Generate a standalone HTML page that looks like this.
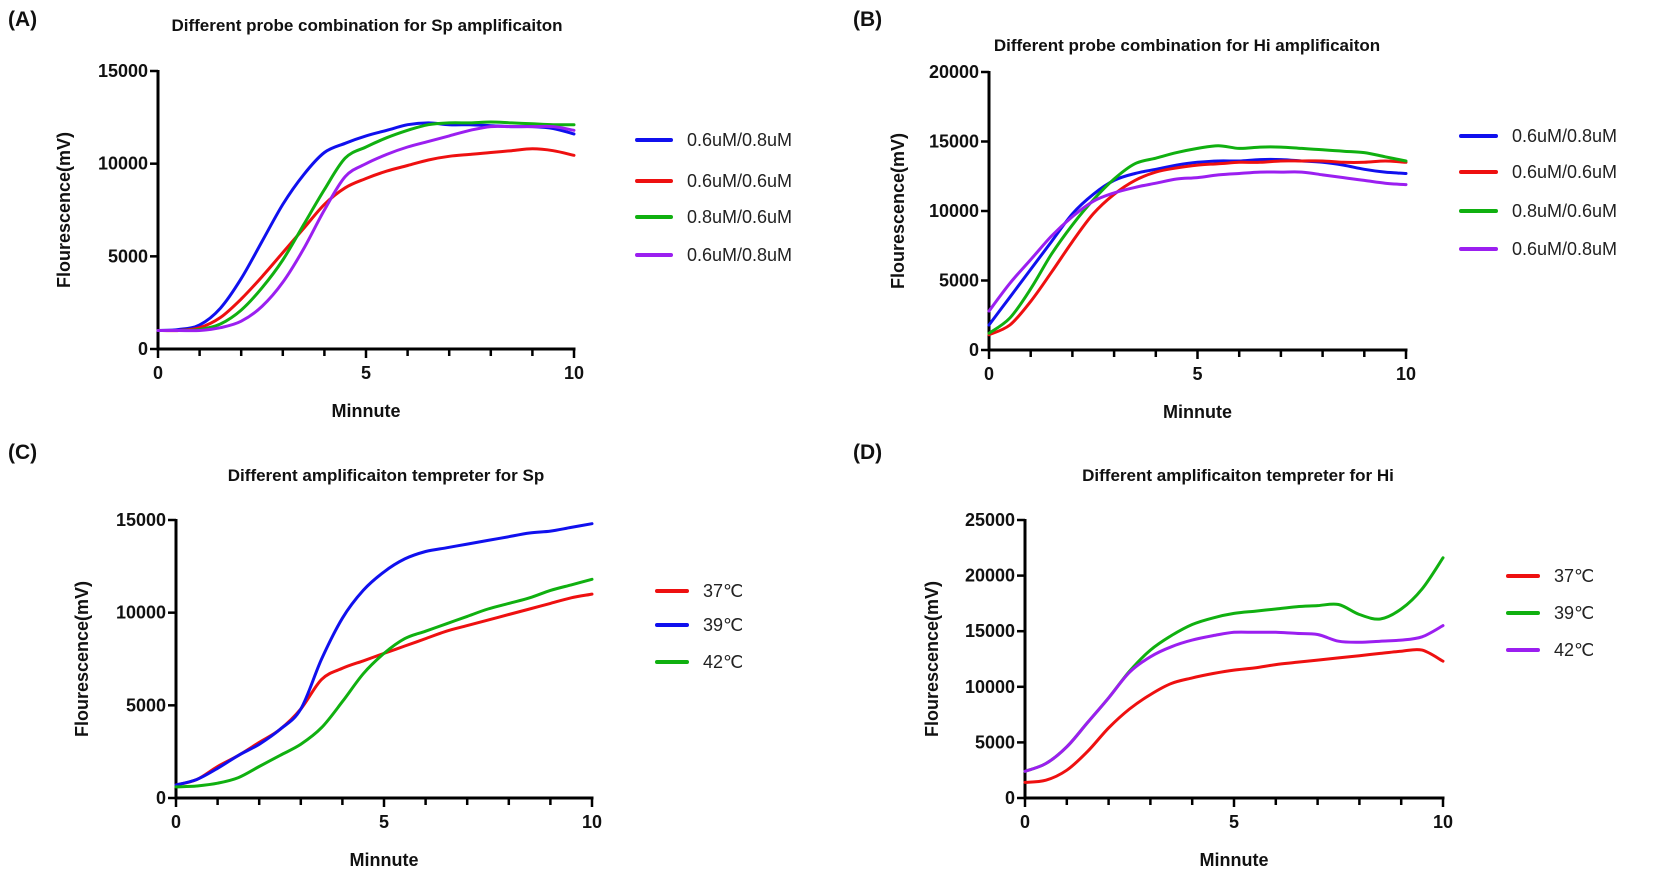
<!DOCTYPE html>
<html><head><meta charset="utf-8"><style>
html,body{margin:0;padding:0;background:#fff}
svg{display:block;font-family:"Liberation Sans",sans-serif}
</style></head><body>
<svg id="fig" width="1654" height="875" viewBox="0 0 1654 875"></svg>
<script>
const xTicks=[0,5,10];
const seriesNamesAB=["0.6uM/0.8uM"," 0.6uM/0.6uM","0.8uM/0.6uM","0.6uM/0.8uM"];
const seriesNamesCD=["37℃","39℃","42℃"];
const aBlue=[1000,1050,1300,2200,3800,5800,7800,9400,10600,11100,11500,11800,12100,12200,12100,12100,12050,12000,12000,11900,11600];
const aRed=[1000,1000,1150,1700,2700,3900,5200,6500,7800,8700,9200,9600,9900,10200,10400,10500,10600,10700,10800,10700,10450];
const aGreen=[1000,1000,1050,1350,2100,3300,4800,6700,8600,10300,10900,11400,11800,12100,12200,12200,12250,12200,12150,12100,12100];
const aPurple=[1000,1000,1000,1150,1500,2300,3600,5400,7500,9300,10000,10500,10900,11200,11500,11800,12000,12000,12000,12000,11800];
const bBlue=[1800,3800,5800,7800,9800,11200,12200,12700,13000,13300,13500,13600,13600,13700,13700,13600,13500,13300,13000,12800,12700];
const bRed=[1100,1800,3500,5600,7800,9800,11200,12200,12800,13100,13300,13400,13500,13500,13600,13600,13600,13500,13500,13600,13500];
const bGreen=[1200,2300,4400,6900,9000,10800,12300,13400,13800,14200,14500,14700,14500,14600,14600,14500,14400,14300,14200,13900,13600];
const bPurple=[2800,4800,6500,8200,9600,10700,11300,11700,12000,12300,12400,12600,12700,12800,12800,12800,12600,12400,12200,12000,11900];
const cRed=[700,1000,1700,2300,3000,3700,4800,6400,7000,7400,7800,8200,8600,9000,9300,9600,9900,10200,10500,10800,11000];
const cBlue=[700,1000,1600,2300,2900,3700,4800,7500,9700,11200,12200,12900,13300,13500,13700,13900,14100,14300,14400,14600,14800];
const cGreen=[600,650,800,1100,1700,2300,2900,3800,5200,6700,7800,8600,9000,9400,9800,10200,10500,10800,11200,11500,11800];
const dRed=[1400,1600,2500,4200,6300,8000,9300,10300,10800,11200,11500,11700,12000,12200,12400,12600,12800,13000,13200,13300,12300];
const dGreen=[2400,3100,4600,6800,9000,11400,13300,14600,15600,16200,16600,16800,17000,17200,17300,17400,16500,16100,17000,18800,21600];
const dPurple=[2400,3100,4600,6800,9000,11300,12700,13600,14200,14600,14900,14900,14900,14800,14700,14100,14000,14100,14200,14500,15500];
const yTicksA=[0,5000,10000,15000];
const yTicksB=[0,5000,10000,15000,20000];
const yTicksD=[0,5000,10000,15000,20000,25000];

const NS="http://www.w3.org/2000/svg";
const svg=document.getElementById('fig');
function el(tag,attrs,parent,text){const e=document.createElementNS(NS,tag);for(const k in attrs)e.setAttribute(k,attrs[k]);if(text!==undefined)e.textContent=text;(parent||svg).appendChild(e);return e;}
function smoothPath(pts){
  let d='M'+pts[0][0].toFixed(1)+','+pts[0][1].toFixed(1);
  for(let i=0;i<pts.length-1;i++){
    const p0=pts[Math.max(0,i-1)],p1=pts[i],p2=pts[i+1],p3=pts[Math.min(pts.length-1,i+2)];
    const c1x=p1[0]+(p2[0]-p0[0])/6,c1y=p1[1]+(p2[1]-p0[1])/6;
    const c2x=p2[0]-(p3[0]-p1[0])/6,c2y=p2[1]-(p3[1]-p1[1])/6;
    d+=` C${c1x.toFixed(1)},${c1y.toFixed(1)} ${c2x.toFixed(1)},${c2y.toFixed(1)} ${p2[0].toFixed(1)},${p2[1].toFixed(1)}`;
  }
  return d;
}

function panel(p){
  const g=el('g',{});
  
  
  const sx=v=>p.x0+(p.x1-p.x0)*v/10;
  const sy=v=>p.y0-(p.y0-p.yTop)*v/p.yMax;
  let t=el('text',{x:p.lx,y:p.ly,'font-size':21,'font-weight':'bold',fill:'#111'},g,'('+p.id.toUpperCase()+')');
  
  
  t=el('text',{x:p.tx,y:p.ty,'font-size':17,'font-weight':'bold','text-anchor':'middle',fill:'#111'},g,p.title);
  
  
  let a=el('line',{x1:p.x0,y1:p.y0,x2:p.x1+1.5,y2:p.y0,stroke:'#000','stroke-width':3},g);
  
  
  a=el('line',{x1:p.x0,y1:p.y0+1.5,x2:p.x0,y2:p.yTop-1,stroke:'#000','stroke-width':3},g);
  
  
  for(let i=0;i<=10;i++){
    const tk=el('line',{x1:sx(i),y1:p.y0,x2:sx(i),y2:p.y0+(i%5===0?9:7),stroke:'#000','stroke-width':2.5},g);
    
    
  }
  xTicks.forEach(v=>{
    const l=el('text',{x:sx(v),y:p.y0+30,'font-size':18,'font-weight':'bold','text-anchor':'middle',fill:'#111'},g,String(v));
    
    
  });
  p.yTicks.forEach(v=>{
    const tk=el('line',{x1:p.x0-8,y1:sy(v),x2:p.x0,y2:sy(v),stroke:'#000','stroke-width':2.5},g);
    
    
    const l=el('text',{x:p.x0-10,y:sy(v)+6,'font-size':18,'font-weight':'bold','text-anchor':'end',fill:'#111'},g,String(v));
    
    
  });
  t=el('text',{x:(p.x0+p.x1)/2,y:p.y0+68,'font-size':18,'font-weight':'bold','text-anchor':'middle',fill:'#111'},g,'Minnute');
  
  
  const cy=(p.y0+p.yTop)/2;
  t=el('text',{x:p.yx,y:cy,'font-size':18,'font-weight':'bold','text-anchor':'middle',fill:'#111',transform:`rotate(-90 ${p.yx} ${cy})`},g,'Flourescence(mV)');
  
  
  p.series.forEach((s,si)=>{
    const pts=s.data.map((v,i)=>[sx(i*0.5),sy(v)]);
    const pl=el('path',{d:smoothPath(pts),fill:'none',stroke:s.color,'stroke-width':3,'stroke-linejoin':'round','stroke-linecap':'round'},g);
    
    
    const ly=p.legY[si];
    const lg=el('g',{},g);
    
    
    el('line',{x1:p.legX,y1:ly,x2:p.legX+p.legW,y2:ly,stroke:s.color,'stroke-width':4,'stroke-linecap':'round'},lg);
    el('text',{x:p.legX+p.legW+16,y:ly+6,'font-size':18,fill:'#222','xml:space':'preserve'},lg,s.name);
  });
}
panel({id:'a',x0:158,x1:574,y0:349,yTop:71,yMax:15000,yTicks:yTicksA,lx:8,ly:26,tx:367,ty:31,yx:70,
  title:'Different probe combination for Sp amplificaiton',legX:637,legW:34,legY:[140,181,217,255],
  series:[{key:'blue',color:'#1010ee',data:aBlue,name:seriesNamesAB[0]},{key:'red',color:'#ee1010',data:aRed,name:seriesNamesAB[1]},{key:'green',color:'#10b010',data:aGreen,name:seriesNamesAB[2]},{key:'purple',color:'#9b1ff0',data:aPurple,name:seriesNamesAB[3]}]});
panel({id:'b',x0:989,x1:1406,y0:350,yTop:72,yMax:20000,yTicks:yTicksB,lx:853,ly:26,tx:1187,ty:51,yx:904,
  title:'Different probe combination for Hi amplificaiton',legX:1461,legW:35,legY:[136,172,211,249],
  series:[{key:'blue',color:'#1010ee',data:bBlue,name:seriesNamesAB[0]},{key:'red',color:'#ee1010',data:bRed,name:seriesNamesAB[1]},{key:'green',color:'#10b010',data:bGreen,name:seriesNamesAB[2]},{key:'purple',color:'#9b1ff0',data:bPurple,name:seriesNamesAB[3]}]});
panel({id:'c',x0:176,x1:592,y0:798,yTop:520,yMax:15000,yTicks:yTicksA,lx:8,ly:459,tx:386,ty:481,yx:88,
  title:'Different  amplificaiton tempreter for Sp',legX:657,legW:30,legY:[591,625,662],
  series:[{key:'red',color:'#ee1010',data:cRed,name:seriesNamesCD[0]},{key:'blue',color:'#1010ee',data:cBlue,name:seriesNamesCD[1]},{key:'green',color:'#10b010',data:cGreen,name:seriesNamesCD[2]}]});
panel({id:'d',x0:1025,x1:1443,y0:798,yTop:520,yMax:25000,yTicks:yTicksD,lx:853,ly:459,tx:1238,ty:481,yx:938,
  title:'Different  amplificaiton tempreter for Hi',legX:1508,legW:30,legY:[576,613,650],
  series:[{key:'red',color:'#ee1010',data:dRed,name:seriesNamesCD[0]},{key:'green',color:'#10b010',data:dGreen,name:seriesNamesCD[1]},{key:'purple',color:'#9b1ff0',data:dPurple,name:seriesNamesCD[2]}]});
</script>
</body></html>
